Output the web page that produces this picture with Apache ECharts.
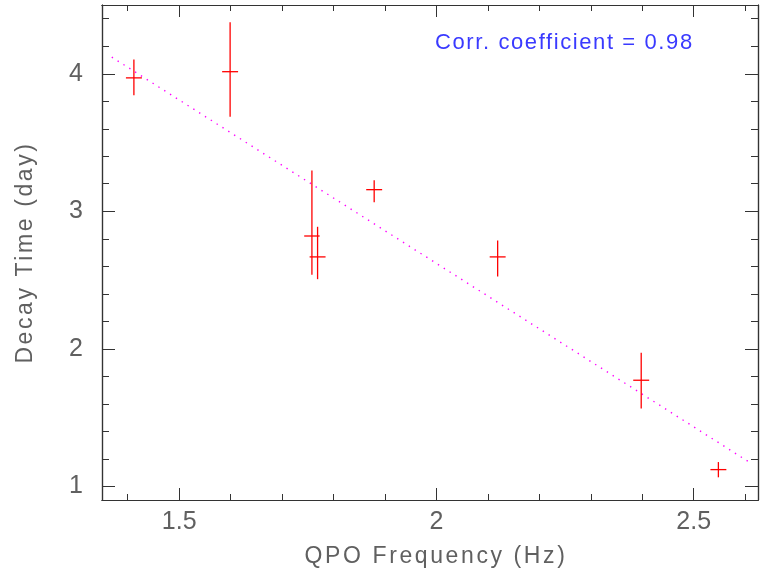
<!DOCTYPE html>
<html>
<head>
<meta charset="utf-8">
<script src="https://cdn.jsdelivr.net/npm/echarts@6/dist/echarts.min.js"></script>
<style>html,body{margin:0;padding:0;background:#fff}#c{width:761px;height:573px}</style>
</head>
<body>
<div id="c"></div>
<script>
// Data
const qpoFreq   = [1.412, 1.599, 1.758, 1.769, 1.879, 2.119, 2.398, 2.548];
const decayTime = [3.97, 4.015, 2.82, 2.668, 3.157, 2.668, 1.771, 1.121];
const decayLow  = [3.844, 3.687, 2.538, 2.506, 3.066, 2.526, 1.566, 1.065];
const decayHigh = [4.104, 4.374, 3.297, 2.887, 3.225, 2.788, 1.971, 1.176];
const freqErr   = [0.0155, 0.0155, 0.015, 0.0155, 0.0155, 0.0155, 0.0155, 0.0155];
const fitX = [1.369, 2.611];
const fitY = [4.121, 1.168];
const xMajorTicks = [1.5, 2, 2.5];
const xMinorTicks = [1.4, 1.6, 1.7, 1.8, 1.9, 2.1, 2.2, 2.3, 2.4, 2.6];
const yMajorTicks = [1, 2, 3, 4];
const yMinorTicks = [1.2, 1.4, 1.6, 1.8, 2.2, 2.4, 2.6, 2.8, 3.2, 3.4, 3.6, 3.8, 4.2, 4.4];
const corrText = 'Corr. coefficient = 0.98';

// Wider letter spacing for the (Hershey-like) title texts
(function () {
  const P = CanvasRenderingContext2D.prototype;
  const orig = P.fillText;
  P.fillText = function (t, x, y, w) {
    const f = this.font || '';
    let ls = '0px';
    if (f.indexOf('23px') >= 0) ls = '2.6px';
    else if (f.indexOf('22px') >= 0) ls = '1.6px';
    if ('letterSpacing' in this) this.letterSpacing = ls;
    return w === undefined ? orig.call(this, t, x, y) : orig.call(this, t, x, y, w);
  };
})();

const X_MIN = 1.35, X_MAX = 2.625, Y_MIN = 0.9, Y_MAX = 4.5;
const FONT = 'Liberation Sans';
const axisColor = '#333';
const labelColor = '#606060';

function xAxisDef(pos, ticks, len, show, extra) {
  return Object.assign({
    type: 'value', position: pos, min: X_MIN, max: X_MAX,
    axisLine: { show: true, onZero: false, lineStyle: { color: axisColor, width: 1.2 } },
    axisTick: { show: true, inside: true, length: len, customValues: ticks, lineStyle: { color: axisColor, width: 1 } },
    axisLabel: { show: show, customValues: ticks, margin: 10, color: labelColor, fontFamily: FONT, fontSize: 25 },
    splitLine: { show: false }
  }, extra || {});
}
function yAxisDef(pos, ticks, len, show, extra) {
  return Object.assign({
    type: 'value', position: pos, min: Y_MIN, max: Y_MAX,
    axisLine: { show: true, onZero: false, lineStyle: { color: axisColor, width: 1.2 } },
    axisTick: { show: true, inside: true, length: len, customValues: ticks, lineStyle: { color: axisColor, width: 1 } },
    axisLabel: { show: show, customValues: ticks, margin: 19, color: labelColor, fontFamily: FONT, fontSize: 25 },
    splitLine: { show: false }
  }, extra || {});
}

const errData = qpoFreq.map((x, i) => [x, decayTime[i], decayLow[i], decayHigh[i], freqErr[i]]);

const chart = echarts.init(document.getElementById('c'), null, { renderer: 'canvas' });
chart.setOption({
  animation: false,
  backgroundColor: '#fff',
  grid: { left: 102, right: 3, top: 5, bottom: 70 },
  xAxis: [
    xAxisDef('bottom', xMajorTicks, 12, true, {
      name: 'QPO Frequency (Hz)', nameLocation: 'middle', nameGap: 45,
      nameTextStyle: { color: labelColor, fontFamily: FONT, fontSize: 23, padding: [0, 0, 0, 12] }
    }),
    xAxisDef('bottom', xMinorTicks, 6, false),
    xAxisDef('top', xMajorTicks, 12, false),
    xAxisDef('top', xMinorTicks, 6, false)
  ],
  yAxis: [
    yAxisDef('left', yMajorTicks, 13, true, {
      name: 'Decay Time (day)', nameLocation: 'middle', nameGap: 65,
      nameTextStyle: { color: labelColor, fontFamily: FONT, fontSize: 23 }
    }),
    yAxisDef('left', yMinorTicks, 7, false),
    yAxisDef('right', yMajorTicks, 13, false),
    yAxisDef('right', yMinorTicks, 7, false)
  ],
  graphic: [{
    type: 'text', left: 435, top: 32,
    style: { text: corrText, fill: '#3a3aff', font: '22px "Liberation Sans"' }
  }],
  series: [
    {
      type: 'line', xAxisIndex: 0, yAxisIndex: 0,
      data: fitX.map((x, i) => [x, fitY[i]]),
      showSymbol: false, symbol: 'none',
      lineStyle: { color: '#ff00ff', width: 1.4, type: [1.4, 5.5] },
      z: 2
    },
    {
      type: 'custom', xAxisIndex: 0, yAxisIndex: 0,
      data: errData,
      renderItem: function (params, api) {
        const x = api.value(0), y = api.value(1), lo = api.value(2), hi = api.value(3), xe = api.value(4);
        const pLo = api.coord([x, lo]), pHi = api.coord([x, hi]);
        const pL = api.coord([x - xe, y]), pR = api.coord([x + xe, y]);
        const style = { stroke: '#ff0000', lineWidth: 1.3 };
        return {
          type: 'group',
          children: [
            { type: 'line', shape: { x1: pLo[0], y1: pLo[1], x2: pHi[0], y2: pHi[1] }, style: style },
            { type: 'line', shape: { x1: pL[0], y1: pL[1], x2: pR[0], y2: pR[1] }, style: style }
          ]
        };
      },
      z: 3
    }
  ]
});
</script>
</body>
</html>
